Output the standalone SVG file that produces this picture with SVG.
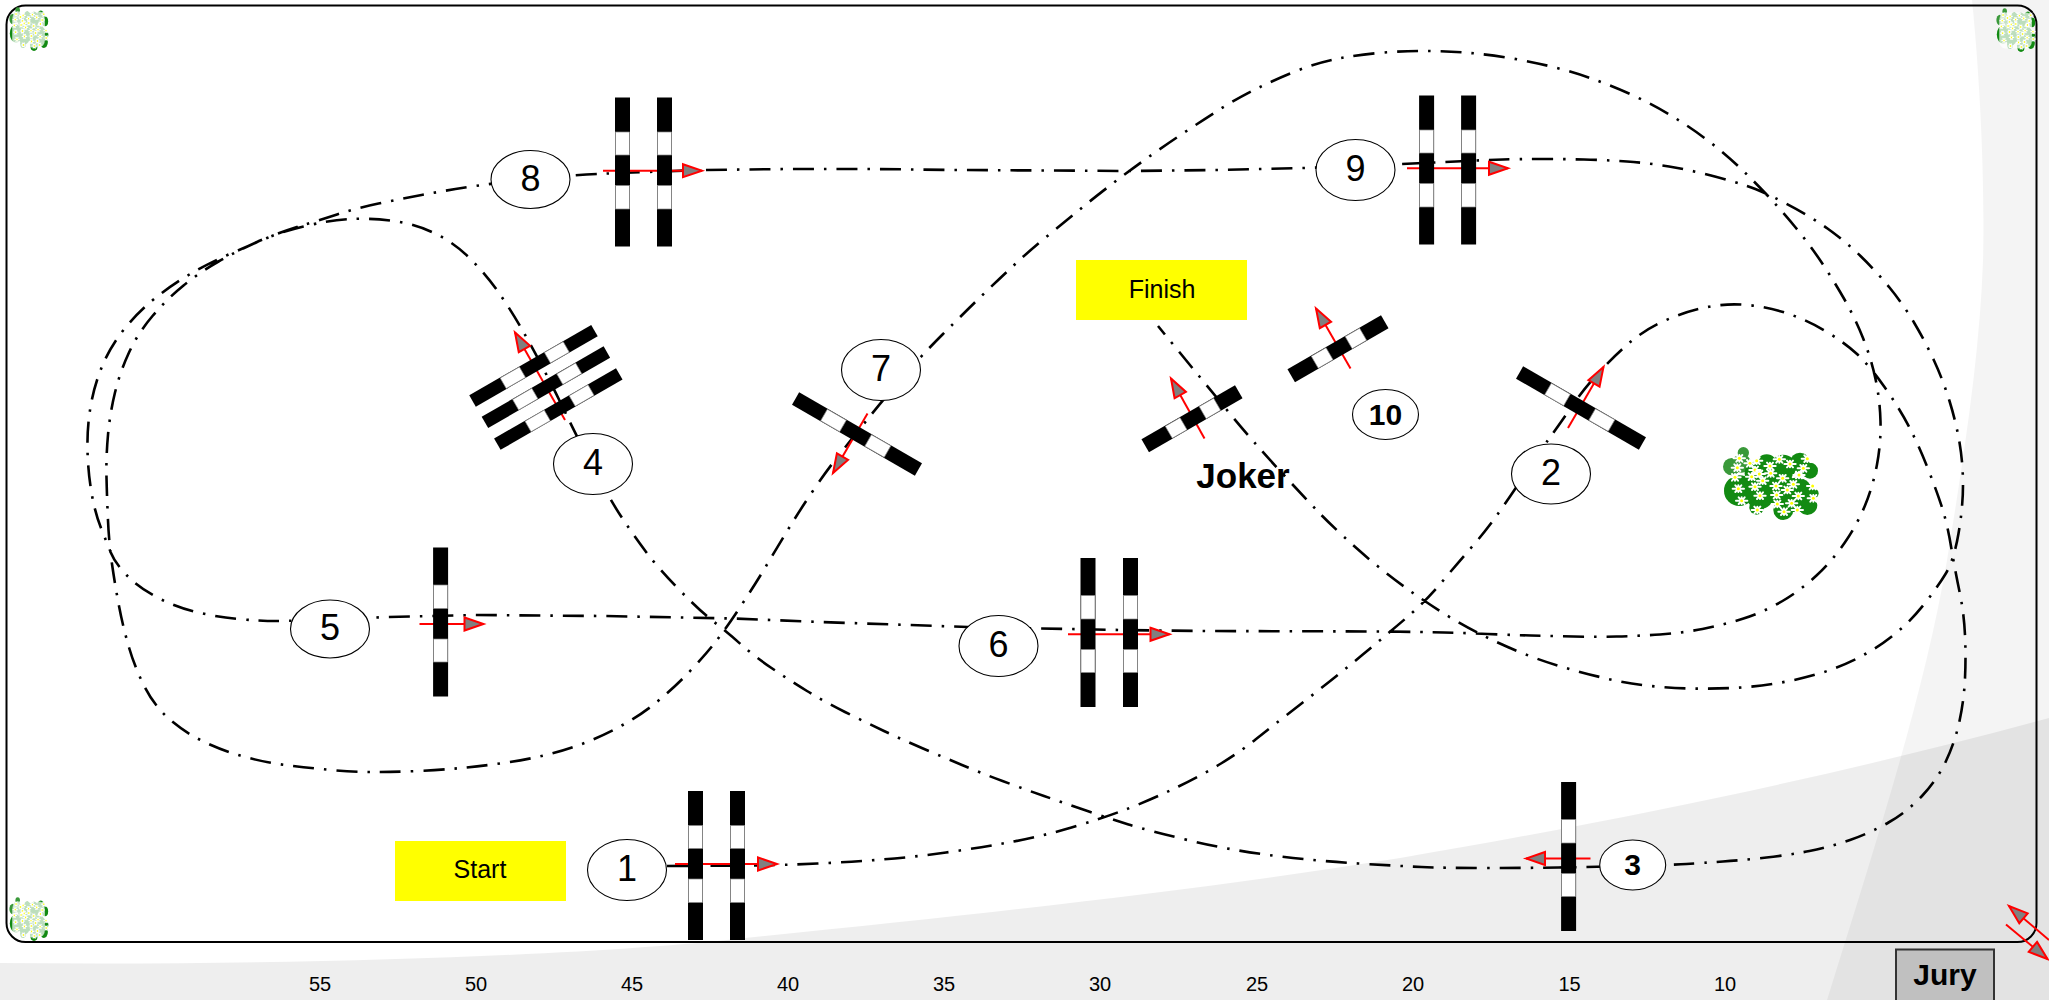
<svg xmlns="http://www.w3.org/2000/svg" xmlns:xlink="http://www.w3.org/1999/xlink" width="2049" height="1000" viewBox="0 0 2049 1000">
<style>
text{font-family:"Liberation Sans",Arial,sans-serif;fill:#000;text-anchor:middle}
.num{font-size:36px}
.bold{font-size:30px;font-weight:bold}
.lab{font-size:25px}
.scale{font-size:20px}
.el{fill:#fff;stroke:#000;stroke-width:1.1}
.course{fill:none;stroke:#000;stroke-width:2.6;stroke-dasharray:21 10 2.5 10}
.arr{fill:none;stroke:#f00;stroke-width:2;marker-end:url(#tip)}
.pet{stroke:#fff;stroke-width:6;stroke-linecap:round}
</style>
<defs>
<marker id="tip" markerUnits="userSpaceOnUse" markerWidth="26" markerHeight="20" viewBox="-2 -10 26 20" refX="19" refY="0" orient="auto"><path d="M0,-6.5 L19,0 L0,6.5Z" fill="#808080" stroke="#f00" stroke-width="2"/></marker>
<g id="bar"><rect x="-7.5" y="-74.5" width="15" height="149" fill="#000"/><rect x="-7" y="-40" width="14" height="23" fill="#fff" stroke="#888" stroke-width=".7"/><rect x="-7" y="13.5" width="14" height="23.5" fill="#fff" stroke="#888" stroke-width=".7"/></g>
<g id="d"><path class="pet" d="M-17,0H17M-9,-10L9,10M-9,10L9,-10M0,-10V10"/><circle r="4.5" fill="#ff0"/></g>
<g id="blooms">
<use href="#d" x="118" y="85"/><use href="#d" x="150" y="100"/><use href="#d" x="170" y="92"/><use href="#d" x="238" y="88"/><use href="#d" x="270" y="102"/><use href="#d" x="322" y="86"/><use href="#d" x="112" y="113"/><use href="#d" x="210" y="108"/><use href="#d" x="310" y="115"/><use href="#d" x="165" y="120"/><use href="#d" x="178" y="132"/><use href="#d" x="212" y="130"/><use href="#d" x="105" y="142"/><use href="#d" x="155" y="140"/><use href="#d" x="188" y="152"/><use href="#d" x="248" y="145"/><use href="#d" x="297" y="135"/><use href="#d" x="228" y="168"/><use href="#d" x="280" y="163"/><use href="#d" x="338" y="168"/><use href="#d" x="115" y="176"/><use href="#d" x="165" y="170"/><use href="#d" x="262" y="180"/><use href="#d" x="230" y="195"/><use href="#d" x="295" y="198"/><use href="#d" x="340" y="205"/><use href="#d" x="125" y="212"/><use href="#d" x="180" y="197"/><use href="#d" x="232" y="222"/><use href="#d" x="275" y="220"/><use href="#d" x="172" y="240"/><use href="#d" x="252" y="245"/><use href="#d" x="292" y="240"/>
</g>
<g id="greens">
<g fill="#3a993a"><circle cx="130" cy="68" r="17"/><circle cx="95" cy="110" r="26"/><circle cx="125" cy="100" r="28"/></g>
<g fill="#128a12"><circle cx="200" cy="105" r="32"/><circle cx="250" cy="112" r="38"/><circle cx="300" cy="98" r="30"/><circle cx="330" cy="122" r="24"/><circle cx="118" cy="182" r="46"/><circle cx="180" cy="195" r="42"/><circle cx="232" cy="170" r="52"/><circle cx="290" cy="195" r="52"/><circle cx="322" cy="225" r="30"/><circle cx="250" cy="240" r="30"/><circle cx="170" cy="232" r="22"/><circle cx="170" cy="130" r="36"/><circle cx="342" cy="190" r="14"/></g>
</g>
<g id="bush"><use href="#greens"/><use href="#blooms"/></g>
<g id="tuft"><use href="#greens"/><rect x="90" y="72" width="240" height="180" rx="40" fill="#fff" opacity=".72"/><use href="#blooms"/></g>
</defs>
<rect width="2049" height="1000" fill="#fff"/>
<g id="background">
<path d="M0,963 C300,966 600,955 745,938 C1000,912 1200,890 1400,858 C1650,815 1850,772 2049,718 L2049,1000 L0,1000Z" fill="#000" fill-opacity=".065"/>
<path d="M1972,0 C1980,80 1985,180 1983,260 C1980,350 1965,450 1947,560 C1925,690 1880,830 1827,1000 L2049,1000 L2049,0Z" fill="#000" fill-opacity=".045"/>
</g>
<rect id="arena" x="6.5" y="5.5" width="2030" height="936.5" rx="19" ry="19" fill="none" stroke="#000" stroke-width="2"/>
<g id="flowers">
<use href="#tuft" transform="translate(0,-3) scale(.136,.2)"/>
<use href="#tuft" transform="translate(1987,-2) scale(.136,.2)"/>
<use href="#tuft" transform="translate(0,887) scale(.136,.2)"/>
<use href="#bush" transform="translate(1700,430) scale(.3333)"/>
</g>
<g id="connectors">
<path class="course" d="M667,866 L755,865.5 Q785,865 817.5,863.5 Q850,862 882,859.5 Q914,857 946,852.5 Q978,848 1008.5,842.5 Q1039,837 1071.5,827.5 Q1104,818 1129.5,808 Q1155,798 1178.5,786.5 Q1202,775 1221,763.5 Q1240,752 1255.5,739.5 Q1271,727 1301.5,703.5 Q1332,680 1361,656 Q1390,632 1408.5,616 Q1427,600 1441.5,582.5 Q1456,565 1470.5,548.5 Q1485,532 1497.5,514.5 Q1510,497 1527.5,470.5 Q1545,444 1552,434.5 Q1559,425 1571,407.5 Q1583,390 1597.5,374 Q1612,358 1628,344 Q1644,330 1664,321 Q1684,312 1705,307.5 Q1726,303 1747.5,305 Q1769,307 1789,314 Q1809,321 1827,332 Q1845,343 1857,354 Q1869,365 1884.5,387 Q1900,409 1910,428.5 Q1920,448 1930,474 Q1940,500 1944,514 Q1948,528 1951.5,549 Q1955,570 1959.5,591.5 Q1964,613 1965,635 Q1966,657 1965,678.5 Q1964,700 1959.5,721 Q1955,742 1946,761 Q1937,780 1922,796 Q1907,812 1888.5,822.5 Q1870,833 1850,840 Q1830,847 1809.5,851 Q1789,855 1766.5,857.5 Q1744,860 1723,861.5 Q1702,863 1686.5,864 Q1671,865 1630.5,866 Q1590,867 1558.5,867.5 Q1527,868 1485,868 Q1443,868 1421.5,867 Q1400,866 1358,863.5 Q1316,861 1272.5,855.5 Q1229,850 1187.5,840 Q1146,830 1128.5,824.5 Q1111,819 1087.5,811 Q1064,803 1044,796 Q1024,789 1002.5,781 Q981,773 962,765 Q943,757 923,748.5 Q903,740 884,731 Q865,722 845,712 Q825,702 807,691 Q789,680 771.5,668 Q754,656 740.5,644 Q727,632 713.5,621.5 Q700,611 679,589.5 Q658,568 645,550.5 Q632,533 620.5,515.5 Q609,498 592.5,466.5 Q576,435 566,414 Q556,393 543.5,369 Q531,345 520,326 Q509,307 496.5,289.5 Q484,272 468.5,257 Q453,242 434,233 Q415,224 393.5,221 Q372,218 351,219 Q330,220 303.5,226.5 Q277,233 257,242 Q237,251 218.5,261.5 Q200,272 183.5,285.5 Q167,299 152.5,316 Q138,333 129,352.5 Q120,372 115,392.5 Q110,413 108,435 Q106,457 106.5,477.5 Q107,498 108,520.5 Q109,543 112,564 Q115,585 119,606 Q123,627 129,647.5 Q135,668 145,687.5 Q155,707 171,720.5 Q187,734 206.5,743 Q226,752 247,757.5 Q268,763 289,765.5 Q310,768 331.5,770 Q353,772 374,772 Q395,772 417.5,771 Q440,770 461,768 Q482,766 503.5,763 Q525,760 546,755 Q567,750 587,742 Q607,734 625.5,723.5 Q644,713 660.5,699 Q677,685 692,669 Q707,653 717,640 Q727,627 741.5,605 Q756,583 767,564.5 Q778,546 789,528 Q800,510 812.5,491.5 Q825,473 834,461.5 Q843,450 860.5,428 Q878,406 898.5,382 Q919,358 942.5,334.5 Q966,311 981.5,296 Q997,281 1012.5,266.5 Q1028,252 1045,238 Q1062,224 1078.5,210.5 Q1095,197 1112,184 Q1129,171 1146.5,158.5 Q1164,146 1182,134 Q1200,122 1218,110.5 Q1236,99 1255,89.5 Q1274,80 1295,71.5 Q1316,63 1336,59 Q1356,55 1378,53 Q1400,51 1421.5,51 Q1443,51 1464,52.5 Q1485,54 1506.5,57.5 Q1528,61 1549,66 Q1570,71 1590,78 Q1610,85 1630,94 Q1650,103 1668.5,114 Q1687,125 1704.5,138 Q1722,151 1737.5,165.5 Q1753,180 1767.5,195.5 Q1782,211 1796,228 Q1810,245 1822,263 Q1834,281 1844.5,299.5 Q1855,318 1863,338 Q1871,358 1875.5,379 Q1880,400 1880.5,421.5 Q1881,443 1877,464.5 Q1873,486 1865,505.5 Q1857,525 1844.5,543 Q1832,561 1816.5,575.5 Q1801,590 1782.5,601 Q1764,612 1743.5,618.5 Q1723,625 1702.5,629 Q1682,633 1660,634.5 Q1638,636 1616.5,636.5 Q1595,637 1573.5,636.5 Q1552,636 1531,635.5 Q1510,635 1487.5,634 Q1465,633 1444,632.5 Q1423,632 1386,631.5 L1207,631 L1120,630 L968,627 L820,622 L733,618.5 L605,616 L475,615 L388,617 L340,619 Q292,621 276,621 Q260,621 238.5,619 Q217,617 196,612 Q175,607 156.5,597 Q138,587 126.5,575 Q115,563 111,553 Q107,543 101,528 Q95,513 91.5,492.5 Q88,472 87.5,450 Q87,428 90.5,407 Q94,386 102,366.5 Q110,347 123.5,330 Q137,313 153.5,299.5 Q170,286 188.5,275 Q207,264 227.5,255 Q248,246 267,238 Q286,230 301.5,225.5 Q317,221 337,214.5 Q357,208 378.5,203.5 Q400,199 421.5,195 Q443,191 465,187.5 Q487,184 529,179.5 Q571,175 608,173.5 Q645,172 702,170 L787,169 L873,169 L959,170 L1131,171 L1218,170 L1304,168 L1360,166 Q1402,164 1423.5,163 Q1445,162 1466,161 Q1487,160 1503,159.5 Q1519,159 1540.5,159 Q1562,159 1584,159.5 Q1606,160 1627,161.5 Q1648,163 1669,166.5 Q1690,170 1711,175.5 Q1732,181 1747,186 Q1762,191 1786,203.5 Q1810,216 1827.5,228.5 Q1845,241 1860.5,256 Q1876,271 1889.5,287.5 Q1903,304 1914,322.5 Q1925,341 1934,360.5 Q1943,380 1949.5,401 Q1956,422 1959.5,442.5 Q1963,463 1963,485 Q1963,507 1958.5,533.5 Q1954,560 1945.5,574 Q1937,588 1923.5,605 Q1910,622 1893,635.5 Q1876,649 1857,658.5 Q1838,668 1817.5,674 Q1797,680 1775.5,683.5 Q1754,687 1732.5,688 Q1711,689 1689.5,688.5 Q1668,688 1646.5,685.5 Q1625,683 1604,678 Q1583,673 1562.5,667 Q1542,661 1522,653 Q1502,645 1483,635.5 Q1464,626 1445.5,614.5 Q1427,603 1409.5,590.5 Q1392,578 1375,564 Q1358,550 1342.5,535.5 Q1327,521 1316.5,510 Q1306,499 1287,478.5 Q1268,458 1254,442 Q1240,426 1226.5,409.5 Q1213,393 1199,376 Q1185,359 1158,326"/>
<path class="arr" d="M675,864H777"/>
<path class="arr" d="M1568,428L1603.5,367"/>
<path class="arr" d="M1590.5,858.5H1526"/>
<path class="arr" d="M565,420L515,332.5"/>
<path class="arr" d="M419.5,624H483.5"/>
<path class="arr" d="M1068,634.3H1169.5"/>
<path class="arr" d="M867.5,413.5L833,473"/>
<path class="arr" d="M603,170.7H702"/>
<path class="arr" d="M1407,168.3H1508"/>
<path class="arr" d="M1350.5,368.5L1316,308.5"/>
<path class="arr" d="M1204.5,438.5L1171,378.5"/>
<path class="arr" d="M2049,940L2009,906"/>
<path class="arr" d="M2006,924.5L2047.5,959"/>
</g>
<g id="fence-1"><use href="#bar" transform="translate(695.5,865.5)"/><use href="#bar" transform="translate(737.5,865.5)"/></g>
<g id="fence-2"><use href="#bar" transform="translate(1581,408) rotate(-60) scale(.95,.952)"/></g>
<g id="fence-3"><use href="#bar" transform="translate(1568.6,856.5) scale(1,-1)"/></g>
<g id="fence-4"><use href="#bar" transform="translate(533.5,365.8) rotate(60) scale(.87,.945)"/><use href="#bar" transform="translate(545.9,387.2) rotate(60) scale(.87,.945)"/><use href="#bar" transform="translate(558.3,409) rotate(60) scale(.87,.945)"/></g>
<g id="fence-5"><use href="#bar" transform="translate(440.6,622) scale(1,-1)"/></g>
<g id="fence-6"><use href="#bar" transform="translate(1088,632.5) scale(1,-1)"/><use href="#bar" transform="translate(1130.5,632.5) scale(1,-1)"/></g>
<g id="fence-7"><use href="#bar" transform="translate(857,434) rotate(-60) scale(.95,.952)"/></g>
<g id="fence-8"><use href="#bar" transform="translate(622.5,172)"/><use href="#bar" transform="translate(664.5,172)"/></g>
<g id="fence-9"><use href="#bar" transform="translate(1426.6,170)"/><use href="#bar" transform="translate(1468.6,170)"/></g>
<g id="fence-joker-a"><use href="#bar" transform="translate(1192,418.8) rotate(60) scale(1,.725)"/></g>
<g id="fence-joker-b"><use href="#bar" transform="translate(1338,348.8) rotate(60) scale(1,.725)"/></g>
<g id="node-1"><ellipse class="el" cx="627" cy="870" rx="39.5" ry="30.5"/><text class="num" x="627" y="881">1</text></g>
<g id="node-2"><ellipse class="el" cx="1551" cy="474" rx="39.5" ry="30"/><text class="num" x="1551" y="485">2</text></g>
<g id="node-3"><ellipse class="el" cx="1632.7" cy="865" rx="33" ry="25"/><text class="bold" x="1632.7" y="875">3</text></g>
<g id="node-4"><ellipse class="el" cx="593" cy="464" rx="39.5" ry="30.5"/><text class="num" x="593" y="475">4</text></g>
<g id="node-5"><ellipse class="el" cx="330" cy="629" rx="39.5" ry="29"/><text class="num" x="330" y="640">5</text></g>
<g id="node-6"><ellipse class="el" cx="998.5" cy="646" rx="39.5" ry="30.5"/><text class="num" x="998.5" y="657">6</text></g>
<g id="node-7"><ellipse class="el" cx="881" cy="370" rx="39.5" ry="30.5"/><text class="num" x="881" y="381">7</text></g>
<g id="node-8"><ellipse class="el" cx="530.5" cy="179.5" rx="39.5" ry="29"/><text class="num" x="530.5" y="190.5">8</text></g>
<g id="node-9"><ellipse class="el" cx="1355.5" cy="170" rx="39.5" ry="30.5"/><text class="num" x="1355.5" y="181">9</text></g>
<g id="node-10"><ellipse class="el" cx="1385.5" cy="414.5" rx="33" ry="25"/><text class="bold" x="1385.5" y="425">10</text></g>
<g id="start"><rect x="395" y="841" width="171" height="60" fill="#ff0"/><text class="lab" x="480" y="878">Start</text></g>
<g id="finish"><rect x="1076" y="260" width="171" height="60" fill="#ff0"/><text class="lab" x="1162" y="298">Finish</text></g>
<text id="joker" x="1243" y="488" font-size="35" font-weight="bold">Joker</text>
<g id="jury"><rect x="1896" y="949.5" width="98" height="60" fill="#c0c0c0" stroke="#333" stroke-width="2"/><text x="1945" y="985" font-size="30" font-weight="bold">Jury</text></g>
<g id="scale">
<text class="scale" x="320" y="991">55</text><text class="scale" x="476" y="991">50</text><text class="scale" x="632" y="991">45</text><text class="scale" x="788" y="991">40</text><text class="scale" x="944" y="991">35</text><text class="scale" x="1100" y="991">30</text><text class="scale" x="1257" y="991">25</text><text class="scale" x="1413" y="991">20</text><text class="scale" x="1569.5" y="991">15</text><text class="scale" x="1725" y="991">10</text>
</g>
</svg>
